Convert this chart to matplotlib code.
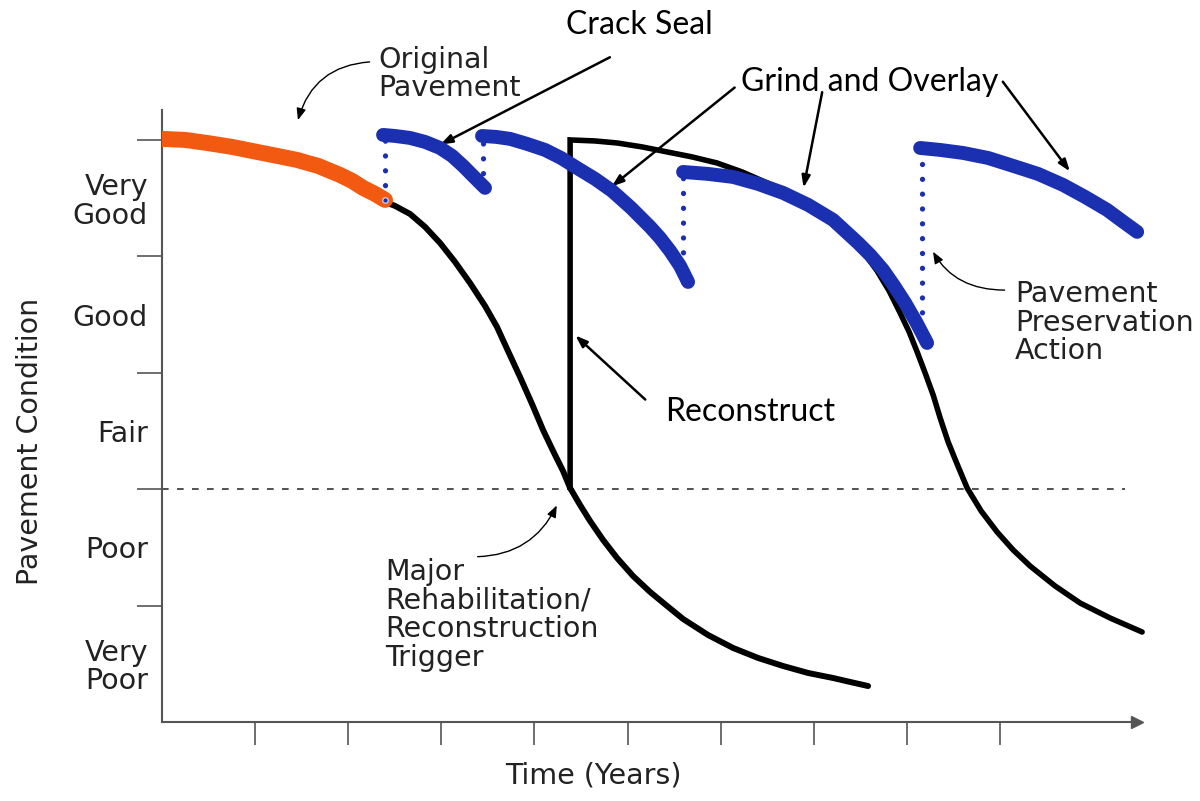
import numpy as np
import matplotlib
matplotlib.use('Agg')
import matplotlib.pyplot as plt

# condition bands (y = 0..5), time in ticks (x = 0..10)
band_labels = ['Very\nPoor', 'Poor', 'Fair', 'Good', 'Very\nGood']
band_centers = [0.5, 1.5, 2.5, 3.5, 4.5]
band_edges = [1, 2, 3, 4, 5]
year_ticks = [1, 2, 3, 4, 5, 6, 7, 8, 9]
trigger_level = 2.0

# original pavement (orange)
orig_x = [0.0, 0.247, 0.483, 0.752, 1.020, 1.235, 1.450, 1.676, 1.912, 2.041,
          2.159, 2.288, 2.395]
orig_y = [5.009, 5.000, 4.974, 4.940, 4.897, 4.863, 4.828, 4.777, 4.699, 4.648,
          4.588, 4.536, 4.485]

# decay without treatment (black)
decay1_x = [2.395, 2.503, 2.664, 2.825, 2.986, 3.147, 3.308, 3.469, 3.598, 3.716,
            3.845, 3.974, 4.092, 4.200, 4.307, 4.383, 4.490, 4.597, 4.737, 4.887,
            5.059, 5.242, 5.424, 5.596, 5.865, 6.133, 6.402, 6.670, 6.939, 7.207,
            7.390, 7.583]
decay1_y = [4.467, 4.433, 4.364, 4.253, 4.115, 3.952, 3.771, 3.574, 3.393, 3.187,
            2.964, 2.732, 2.509, 2.328, 2.156, 2.010, 1.864, 1.727, 1.564, 1.409,
            1.254, 1.117, 0.997, 0.885, 0.747, 0.636, 0.550, 0.481, 0.421, 0.378,
            0.344, 0.309]

# reconstruct jump then second decay
decay2_x = [4.383, 4.383, 4.651, 4.887, 5.156, 5.424, 5.693, 5.961, 6.230, 6.498,
            6.767, 7.035, 7.229, 7.390, 7.540, 7.680, 7.809, 7.927, 8.024, 8.110,
            8.196, 8.282, 8.357, 8.443, 8.539, 8.647, 8.797, 8.969, 9.141, 9.323,
            9.592, 9.860, 10.183, 10.526]
decay2_y = [2.010, 5.000, 4.991, 4.974, 4.940, 4.897, 4.854, 4.802, 4.725, 4.631,
            4.527, 4.399, 4.287, 4.167, 4.029, 3.875, 3.703, 3.514, 3.351, 3.179,
            2.998, 2.809, 2.612, 2.405, 2.216, 2.010, 1.813, 1.632, 1.478, 1.340,
            1.168, 1.022, 0.893, 0.773]

# preservation treatments (blue)
treat_x = [
    [2.374, 2.503, 2.664, 2.825, 2.986, 3.115, 3.233, 3.351, 3.469],
    [3.437, 3.588, 3.738, 3.920, 4.114, 4.286, 4.458, 4.651, 4.834, 5.038, 5.242,
     5.349, 5.457, 5.564, 5.650],
    [5.596, 5.865, 6.133, 6.402, 6.670, 6.939, 7.207, 7.476, 7.605, 7.744, 7.863,
     7.981, 8.099, 8.217],
    [8.142, 8.357, 8.604, 8.872, 9.141, 9.409, 9.678, 9.914, 10.150, 10.311, 10.473],
]
treat_y = [
    [5.043, 5.034, 5.017, 4.983, 4.931, 4.863, 4.777, 4.682, 4.588],
    [5.034, 5.026, 5.009, 4.966, 4.914, 4.845, 4.759, 4.665, 4.562, 4.416, 4.253,
     4.158, 4.046, 3.918, 3.780],
    [4.725, 4.708, 4.682, 4.622, 4.545, 4.442, 4.313, 4.115, 4.012, 3.883, 3.746,
     3.600, 3.436, 3.256],
    [4.931, 4.914, 4.888, 4.845, 4.777, 4.708, 4.613, 4.510, 4.399, 4.304, 4.210],
]
# dotted jumps: x, from, to
jump_x = [2.40, 3.45, 5.60, 8.16]
jump_lo = [4.48, 4.59, 3.78, 3.26]
jump_hi = [5.04, 5.03, 4.73, 4.93]

BLUE = '#1a30b0'
ORANGE = '#f25a12'
TXT = '#222222'
AX = '#555555'
lab_font = 'DejaVu Sans'
cal_font = 'Lato'
LAB = 20.5
CAL = 23
LS = 1.03

fig = plt.figure(figsize=(12, 8.01), dpi=100)
ax = fig.add_axes([162/1200, 79/801, 987/1200, 617/801])
ax.set_xlim(0, 10.6)
ax.set_ylim(0, 5.3)

for s in ['top', 'right']:
    ax.spines[s].set_visible(False)
for s in ['left', 'bottom']:
    ax.spines[s].set_color(AX)
    ax.spines[s].set_linewidth(1.5)
ax.spines['left'].set_bounds(0, 5.26)
ax.spines['bottom'].set_bounds(0, 10.47)
ax.plot([10.47], [0], marker='>', ms=9, color=AX, clip_on=False)

ax.set_xticks(year_ticks)
ax.set_xticklabels([])
ax.tick_params(axis='x', direction='out', length=16.5, width=1.2, color=AX)
ax.set_yticks(band_edges)
ax.set_yticklabels([])
ax.tick_params(axis='y', which='major', direction='out', length=18, width=1.2, color=AX)
ax.set_yticks(band_centers, minor=True)
ax.set_yticklabels(band_labels, minor=True, fontsize=LAB, color=TXT,
                   family=lab_font, linespacing=LS)
ax.tick_params(axis='y', which='minor', length=0, pad=10)
ax.tick_params(axis='x', which='minor', length=0)

ax.set_ylabel('Pavement Condition', fontsize=LAB, color=TXT, family=lab_font)
ax.yaxis.set_label_coords(-0.12, 0.454)
ax.set_xlabel('Time (Years)', fontsize=LAB, color=TXT, family=lab_font)
ax.xaxis.set_label_coords(0.437, -0.064)

# trigger line
ax.plot([0, 10.34], [trigger_level, trigger_level], color='#333333', lw=1.2,
        dashes=(4, 5), zorder=1)

# curves
ax.plot(decay1_x, decay1_y, color='black', lw=4.3, solid_capstyle='round', zorder=2)
ax.plot(decay2_x, decay2_y, color='black', lw=4.0, solid_joinstyle='miter',
        solid_capstyle='round', zorder=2)
for jx, lo, hi in zip(jump_x, jump_lo, jump_hi):
    ax.plot([jx, jx], [lo, hi], color=BLUE, lw=3.8, dashes=(0.01, 2.8),
            dash_capstyle='round', zorder=3)
for tx, ty in zip(treat_x, treat_y):
    ax.plot(tx, ty, color=BLUE, lw=10, solid_capstyle='round', zorder=4)
ax.plot(orig_x, orig_y, color=ORANGE, lw=11.5, solid_capstyle='round', zorder=5)
ax.plot([orig_x[-1]], [orig_y[-1]], marker='o', ms=4, color=BLUE,
        mec='#c8c8d8', mew=1, zorder=6)

arrow = dict(arrowstyle='-|>,head_length=0.7,head_width=0.25', color='black',
             lw=1.8, shrinkA=0, shrinkB=0)
thin = dict(arrowstyle='-|>,head_length=0.7,head_width=0.28', color='black',
            lw=1.0, shrinkA=0, shrinkB=0)

# text labels
ax.text(2.32, 5.565, 'Original\nPavement', fontsize=LAB, color=TXT, family=lab_font,
        ha='left', va='center', linespacing=LS)
ax.annotate('', xy=(1.46, 5.17), xytext=(2.23, 5.67), annotation_clip=False,
            arrowprops=dict(thin, connectionstyle='arc3,rad=0.35'))

ax.text(5.13, 5.99, 'Crack Seal', fontsize=CAL, color='black', family=cal_font,
        ha='center', va='center')
ax.annotate('', xy=(2.99, 4.96), xytext=(4.81, 5.71), annotation_clip=False,
            arrowprops=arrow)

ax.text(7.60, 5.50, 'Grind and Overlay', fontsize=CAL, color='black', family=cal_font,
        ha='center', va='center')
for start, end in [((6.15, 5.45), (4.83, 4.60)), ((7.09, 5.41), (6.89, 4.59)),
                   ((9.03, 5.50), (9.75, 4.73))]:
    ax.annotate('', xy=end, xytext=start, annotation_clip=False, arrowprops=arrow)

ax.text(5.40, 2.66, 'Reconstruct', fontsize=CAL, color='black', family=cal_font,
        ha='left', va='center')
ax.annotate('', xy=(4.44, 3.32), xytext=(5.19, 2.77), arrowprops=arrow)

ax.text(9.16, 3.43, 'Pavement\nPreservation\nAction', fontsize=LAB, color=TXT,
        family=lab_font, ha='left', va='center', linespacing=LS)
ax.annotate('', xy=(8.28, 4.04), xytext=(9.05, 3.71), annotation_clip=False,
            arrowprops=dict(thin, connectionstyle='angle3,angleA=180,angleB=-60'))

ax.text(2.40, 0.92, 'Major\nRehabilitation/\nReconstruction\nTrigger', fontsize=LAB,
        color=TXT, family=lab_font, ha='left', va='center', linespacing=LS)
ax.annotate('', xy=(4.24, 1.86), xytext=(3.39, 1.42),
            arrowprops=dict(thin, connectionstyle='arc3,rad=0.3'))

fig.savefig('out.png', dpi=100, facecolor='white')
